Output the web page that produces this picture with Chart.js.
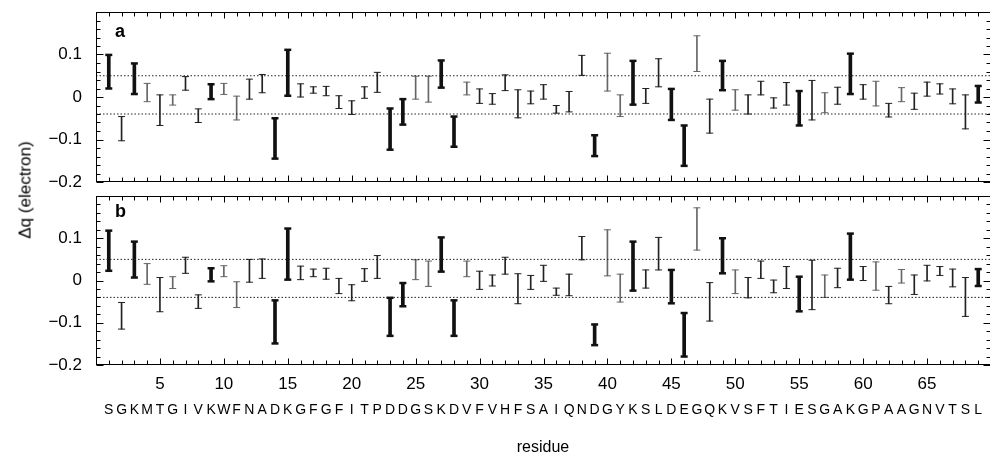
<!DOCTYPE html>
<html>
<head>
<meta charset="utf-8">
<script src="https://cdn.jsdelivr.net/npm/chart.js@4"></script>
<style>
  body { margin: 0; background: #fff; overflow: hidden; width: 990px; height: 465px; position: relative;
         font-family: "Liberation Sans", Arial, sans-serif; }
  canvas { position: absolute; left: 0; }
  #chartA { top: 0; }
  #chartB { top: 190px; }
  .lbl { position: absolute; color: #000; white-space: nowrap; line-height: 1; }
</style>
</head>
<body>
<canvas id="chartA" width="992" height="190"></canvas>
<canvas id="chartB" width="992" height="275"></canvas>
<div class="lbl" style="left:115px; top:22px; font-size:18px; font-weight:bold;">a</div>
<div class="lbl" style="left:115px; top:202px; font-size:18px; font-weight:bold;">b</div>
<div class="lbl" style="left:25px; top:190px; font-size:17px; transform: translate(-50%,-50%) rotate(-90deg);">Δq (electron)</div>
<div class="lbl" style="left:543px; top:447px; font-size:16px; transform: translate(-50%,-50%);">residue</div>
<script>
// residue sequence (one letter per residue, 1..69)
const sequence = "SGKMTGIVKWFNADKGFGFITPDDGSKDVFVHFSAIQNDGYKSLDEGQKVSFTIESGAKGPAAGNVTSL".split("");
const xTickValues = [5, 10, 15, 20, 25, 30, 35, 40, 45, 50, 55, 60, 65];
const yTickValues = [0.1, 0, -0.1, -0.2];
const refLines = [0.05, -0.04];

// residues drawn with heavy bars / light grey bars
const boldResidues = [1, 3, 9, 14, 15, 23, 24, 27, 28, 39, 42, 45, 46, 49, 55, 59, 69];
const greyResidues = [4, 6, 10, 11, 25, 26, 29, 40, 41, 47, 50, 57, 61, 63];

// panel a : upper / lower ends of the bars
const aHigh = [0.099, -0.046, 0.079, 0.032, 0.005, 0.005, 0.048, -0.028, 0.030, 0.032,
  0.002, 0.042, 0.053, -0.050, 0.111, 0.031, 0.024, 0.025, 0.003, -0.009,
  0.024, 0.058, -0.027, -0.005, 0.049, 0.049, 0.086, -0.046, 0.035, 0.019,
  0.008, 0.052, 0.017, 0.014, 0.029, -0.020, 0.013, 0.098, -0.090, 0.103,
  0.005, 0.085, 0.020, 0.090, 0.019, -0.067, 0.144, -0.005, 0.085, 0.017,
  0.005, 0.037, -0.002, 0.034, 0.014, 0.039, 0.010, 0.023, 0.102, 0.029,
  0.037, -0.015, 0.022, 0.009, 0.035, 0.031, 0.019, 0.005, 0.026];
const aLow = [0.020, -0.103, 0.007, -0.011, -0.067, -0.019, 0.016, -0.060, -0.005, 0.006,
  -0.054, -0.005, 0.010, -0.145, 0.003, 0.000, 0.009, 0.003, -0.027, -0.041,
  -0.003, 0.011, -0.124, -0.065, -0.005, -0.012, 0.022, -0.117, 0.005, -0.015,
  -0.017, 0.015, -0.049, -0.016, -0.005, -0.038, -0.035, 0.051, -0.139, 0.014,
  -0.046, -0.018, -0.015, 0.024, -0.054, -0.162, 0.060, -0.085, 0.016, -0.031,
  -0.040, 0.005, -0.026, -0.019, -0.067, -0.054, -0.037, -0.017, 0.007, -0.005,
  -0.021, -0.047, -0.011, -0.029, 0.002, 0.007, -0.016, -0.075, -0.013];

// panel b
const bHigh = [0.118, -0.052, 0.092, 0.040, 0.007, 0.009, 0.055, -0.034, 0.029, 0.035,
  -0.003, 0.050, 0.051, -0.047, 0.123, 0.034, 0.027, 0.029, 0.005, -0.010,
  0.028, 0.059, -0.041, -0.006, 0.049, 0.046, 0.102, -0.047, 0.046, 0.022,
  0.013, 0.055, 0.016, 0.012, 0.036, -0.018, 0.015, 0.104, -0.104, 0.120,
  0.015, 0.092, 0.025, 0.102, 0.025, -0.077, 0.172, -0.005, 0.100, 0.025,
  0.007, 0.046, 0.001, 0.033, 0.009, 0.048, 0.013, 0.029, 0.111, 0.033,
  0.044, -0.014, 0.026, 0.013, 0.036, 0.033, 0.027, 0.007, 0.027];
const bLow = [0.023, -0.115, 0.007, -0.009, -0.074, -0.019, 0.017, -0.066, -0.002, 0.009,
  -0.064, -0.004, 0.005, -0.149, 0.002, 0.002, 0.009, 0.003, -0.031, -0.048,
  -0.002, 0.005, -0.131, -0.061, 0.002, -0.014, 0.021, -0.131, 0.009, -0.021,
  -0.013, 0.015, -0.055, -0.021, -0.002, -0.035, -0.036, 0.049, -0.153, 0.011,
  -0.051, -0.024, -0.018, 0.025, -0.054, -0.180, 0.072, -0.096, 0.017, -0.031,
  -0.041, 0.005, -0.029, -0.019, -0.073, -0.069, -0.040, -0.017, 0.002, 0.000,
  -0.023, -0.055, -0.006, -0.033, -0.001, 0.012, -0.015, -0.085, -0.013];

const FONT = "'Liberation Sans', Arial, sans-serif";

function barColor(r) {
  if (boldResidues.includes(r)) return "#111";
  if (greyResidues.includes(r)) return "#666";
  return "#222";
}

// chart.js pads the chart area for edge labels; we want a fixed frame
function noPad(s) {
  s.paddingTop = 0; s.paddingBottom = 0; s.paddingLeft = 0; s.paddingRight = 0;
}

// frame with inward ticks on all four sides
const framePlugin = {
  id: "frame",
  afterDatasetsDraw(chart) {
    const { ctx, chartArea, scales } = chart;
    const x = scales.x, y = scales.y;
    const L = Math.round(chartArea.left) + 0.5, R = Math.round(chartArea.right) - 0.5;
    const T = Math.round(chartArea.top) + 0.5, B = Math.round(chartArea.bottom) - 0.5;
    ctx.save();
    ctx.strokeStyle = "#000";
    ctx.lineWidth = 1;
    ctx.strokeRect(L, T, R - L, B - T);
    ctx.beginPath();
    for (let r = 1; r < 70; r++) {
      const px = Math.round(x.getPixelForValue(r)) + 0.5;
      const len = r % 5 === 0 ? 6 : 4;
      ctx.moveTo(px, B); ctx.lineTo(px, B - len);
      ctx.moveTo(px, T); ctx.lineTo(px, T + len);
    }
    for (let k = -10; k <= 10; k++) {
      const py = Math.round(y.getPixelForValue(k * 0.02)) + 0.5;
      const len = k % 5 === 0 ? 7 : 4;
      ctx.moveTo(L, py); ctx.lineTo(L + len, py);
      ctx.moveTo(R, py); ctx.lineTo(R - len, py);
    }
    ctx.stroke();
    ctx.restore();
  }
};

function makeChart(id, low, high, bottom) {
  const bold = [], thin = [], caps = [];
  sequence.forEach((s, i) => {
    const r = i + 1;
    const pt = { x: r, y: [low[i], high[i]] };
    (boldResidues.includes(r) ? bold : thin).push(pt);
    caps.push({ x: r, y: low[i] }, { x: r, y: high[i] });
  });

  const datasets = refLines.map(v => ({
    type: "line",
    data: [{ x: 0, y: v }, { x: 70, y: v }],
    borderColor: "#222",
    borderWidth: 1,
    borderDash: [1.5, 2],
    pointRadius: 0
  }));
  datasets.push({
    type: "bar", data: bold, barThickness: 3, grouped: false,
    backgroundColor: ctx => barColor(ctx.raw.x)
  }, {
    type: "bar", data: thin, barThickness: 1, grouped: false,
    backgroundColor: ctx => barColor(ctx.raw.x)
  }, {
    type: "line", data: caps, showLine: false,
    pointStyle: "line", pointRadius: 3.5,
    pointBorderWidth: ctx => boldResidues.includes(ctx.raw.x) ? 2.5 : 1,
    pointBorderColor: ctx => barColor(ctx.raw.x)
  });

  const scales = {
    x: {
      type: "linear", min: 0, max: 70, offset: false,
      grid: { display: false, drawTicks: false }, border: { display: false },
      afterBuildTicks: s => { s.ticks = xTickValues.map(v => ({ value: v })); },
      ticks: { display: bottom, padding: 9, color: "#000", font: { family: FONT, size: 17 }, maxRotation: 0, autoSkip: false },
      afterFit: s => { noPad(s); s.height = bottom ? 32 : 8; }
    },
    y: {
      min: -0.2, max: 0.2,
      grid: { display: false, drawTicks: false }, border: { display: false },
      afterBuildTicks: s => { s.ticks = yTickValues.map(v => ({ value: v })); },
      ticks: {
        padding: 14, color: "#000", font: { family: FONT, size: 17 },
        callback: v => v < 0 ? "\u2212" + Math.abs(v) : String(v)
      },
      afterFit: s => { noPad(s); s.width = 96; }
    }
  };
  if (bottom) {
    scales.xs = {
      type: "linear", position: "bottom", weight: 1, min: 0, max: 70, offset: false,
      grid: { display: false, drawTicks: false }, border: { display: false },
      afterBuildTicks: s => { s.ticks = sequence.map((c, i) => ({ value: i + 1 })); },
      ticks: {
        padding: 5, color: "#000", font: { family: FONT, size: 14 },
        maxRotation: 0, autoSkip: false,
        callback: v => sequence[v - 1]
      },
      afterFit: s => { noPad(s); s.height = 68; }
    };
  }

  return new Chart(document.getElementById(id), {
    type: "bar",
    data: { datasets },
    options: {
      responsive: false,
      animation: false,
      layout: { autoPadding: false, padding: { top: bottom ? 6 : 12, right: 1, left: 0, bottom: 0 } },
      plugins: { legend: { display: false }, tooltip: { enabled: false } },
      scales
    },
    plugins: [framePlugin]
  });
}

makeChart("chartA", aLow, aHigh, false);
makeChart("chartB", bLow, bHigh, true);
</script>
</body>
</html>
